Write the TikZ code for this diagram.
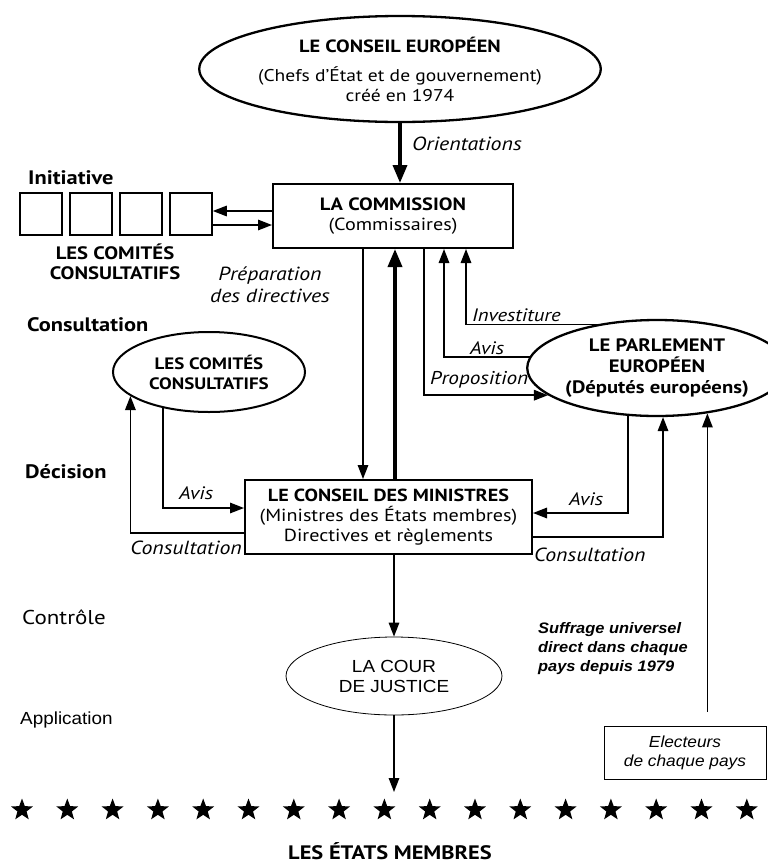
\documentclass[tikz,border=0pt]{standalone}
\usepackage{fontspec}
\setmainfont{PT Sans}[FakeStretch=1.15]
\newfontfamily\arialf{Liberation Sans}[FakeStretch=1.08]
\usetikzlibrary{arrows.meta,shapes.geometric}
\begin{document}
\begin{tikzpicture}[x=1pt,y=-1pt,
  every node/.style={font=\fontsize{17.5}{20}\selectfont, inner sep=0pt},
  lbl/.style={font=\fontsize{19}{22}\selectfont\itshape},
  hd/.style={font=\fontsize{19.5}{20}\selectfont\bfseries},
  ar/.style={font=\fontsize{17.5}{20}\selectfont\arialf},
  arbi/.style={font=\fontsize{15.2}{19}\selectfont\arialf\bfseries\itshape},
  ari/.style={font=\fontsize{16}{19}\selectfont\arialf\itshape},
  boxnode/.style={draw, rectangle, line width=2pt, align=center},
  ell/.style={draw, ellipse, line width=2.3pt, align=center},
  sqnode/.style={draw, rectangle, line width=1.6pt, minimum width=42pt, minimum height=42pt},
  arr/.style={line width=1.5pt, -{Triangle[length=14pt,width=10.5pt]}},
  thickarr/.style={line width=3.5pt, -{Triangle[length=18pt,width=14pt]}},
  starnode/.style={star, star points=5, star point ratio=2.4, fill=black, minimum size=23pt, inner sep=0pt}
]
\fill[white] (0,0) rectangle (768,863);
\useasboundingbox (0,0) rectangle (768,863);

% main nodes
\node[ell, minimum width=394pt, minimum height=106pt] (ce) at (400,69)
  {{\fontsize{17.7}{20}\selectfont\bfseries LE CONSEIL EUROPÉEN}\\[9pt]{\fontsize{17}{20}\selectfont(Chefs d’État et de gouvernement)}\\{\fontsize{17}{20}\selectfont créé en 1974}};
\node[boxnode, minimum width=240pt, minimum height=64pt] (comm) at (393,216)
  {{\fontsize{17.8}{20}\selectfont\bfseries LA COMMISSION}\\(Commissaires)};
\node[sqnode] (sq1) at (41,214) {};
\node[sqnode] (sq2) at (91,214) {};
\node[sqnode] (sq3) at (141,214) {};
\node[sqnode] (sq4) at (191,214) {};
\node[ell, line width=2pt, minimum width=192pt, minimum height=80pt, font=\fontsize{16.5}{20}\selectfont\bfseries] (cc) at (209,372)
  {LES COMITÉS\\CONSULTATIFS};
\node[ell, minimum width=220pt, minimum height=96pt, font=\fontsize{18}{21}\selectfont\bfseries] (pe) at (657,368)
  {LE PARLEMENT\\EUROPÉEN\\(Députés européens)};
\node[boxnode, minimum width=287pt, minimum height=74pt] (cm) at (388.5,517)
  {{\bfseries LE CONSEIL DES MINISTRES}\\(Ministres des États membres)\\Directives et règlements};
\node[ell, ar, line width=0.8pt, minimum width=216pt, minimum height=78pt] (cour) at (394,676)
  {LA COUR\\DE JUSTICE};
\node[draw, rectangle, line width=1pt, ari, align=center, minimum width=162pt, minimum height=53pt] (el) at (685,752.5)
  {Electeurs\\de chaque pays};
\foreach \i in {0,...,16} \node[starnode] (s\i) at ({22+45.3*\i},810) {};

% helper coordinates
\coordinate (xP) at (363,0);
\coordinate (xT) at (395,0);
\coordinate (xPr) at (424,0);
\coordinate (xAv) at (444,0);
\coordinate (xIn) at (466,0);
\coordinate (yUp) at (0,211);
\coordinate (yDn) at (0,225);
\coordinate (yLA) at (0,508);
\coordinate (yLC) at (0,533);
\coordinate (yRA) at (0,513);
\coordinate (yRC) at (0,537);
\coordinate (sEnd) at (394,792);

% connectors
\draw[thickarr] (ce.south) -- (comm.north -| ce.south);
\draw[arr] (comm.west |- yUp) -- (sq4.east |- yUp);
\draw[arr] (sq4.east |- yDn) -- (comm.west |- yDn);
\draw[arr] (comm.south -| xP) -- (cm.north -| xP);
\draw[thickarr] (cm.north -| xT) -- (comm.south -| xT);
\draw[arr] (comm.south -| xPr) |- (pe.194.9);
\draw[arr] (pe.175.2) -| (comm.south -| xAv);
\draw[arr] (pe.144.4) -| (comm.south -| xIn);
\draw[arr] (cc.218.1) |- (cm.west |- yLA);
\draw[arr] (cm.west |- yLC) -| (cc.197.2);
\draw[arr] (pe.239.9) |- (cm.east |- yRA);
\draw[arr] (cm.east |- yRC) -| (pe.277.1);
\draw[arr] (cm.south -| cour.north) -- (cour.north);
\draw[arr] (cour.south) -- (sEnd);
\draw[arr, shorten <=14pt] (el.north -| pe.318.7) -- (pe.318.7);

% labels
\node[lbl, anchor=west] (lOr) at (412,144) {Orientations};
\node[hd, anchor=west] (lInit) at (28,178) {Initiative};
\node[hd, font=\fontsize{18}{20}\selectfont\bfseries, align=center] (lCom) at (115,262) {LES COMITÉS\\CONSULTATIFS};
\node[lbl, align=center] (lPrep) at (270,285) {Préparation\\des directives};
\node[hd, anchor=west] (lCons) at (27,325) {Consultation};
\node[lbl, font=\fontsize{18}{22}\selectfont\itshape, anchor=west] (lInv) at (472,315) {Investiture};
\node[lbl, font=\fontsize{18}{22}\selectfont\itshape, anchor=west] (lAv1) at (470,348) {Avis};
\node[lbl, font=\fontsize{18.5}{22}\selectfont\itshape, anchor=west] (lProp) at (430,380) {Proposition};
\node[hd, anchor=west] (lDec) at (25,472) {Décision};
\node[lbl, font=\fontsize{18}{22}\selectfont\itshape, anchor=west] (lAv2) at (179,493) {Avis};
\node[lbl, anchor=east] (lCo1) at (242,548) {Consultation};
\node[lbl, font=\fontsize{18}{22}\selectfont\itshape, anchor=west] (lAv3) at (569,499) {Avis};
\node[lbl, anchor=west] (lCo2) at (534,555) {Consultation};
\node[font=\fontsize{20}{22}\selectfont, anchor=west] (lCtrl) at (22,617) {Contrôle};
\node[arbi, anchor=north west, align=left] (lSuf) at (538,622) {Suffrage universel\\direct dans chaque\\pays depuis 1979};
\node[ar, anchor=west] (lApp) at (20,720) {Application};
\node[hd, anchor=base] (lEM) at (390,859) {LES ÉTATS MEMBRES};
\end{tikzpicture}
\end{document}
